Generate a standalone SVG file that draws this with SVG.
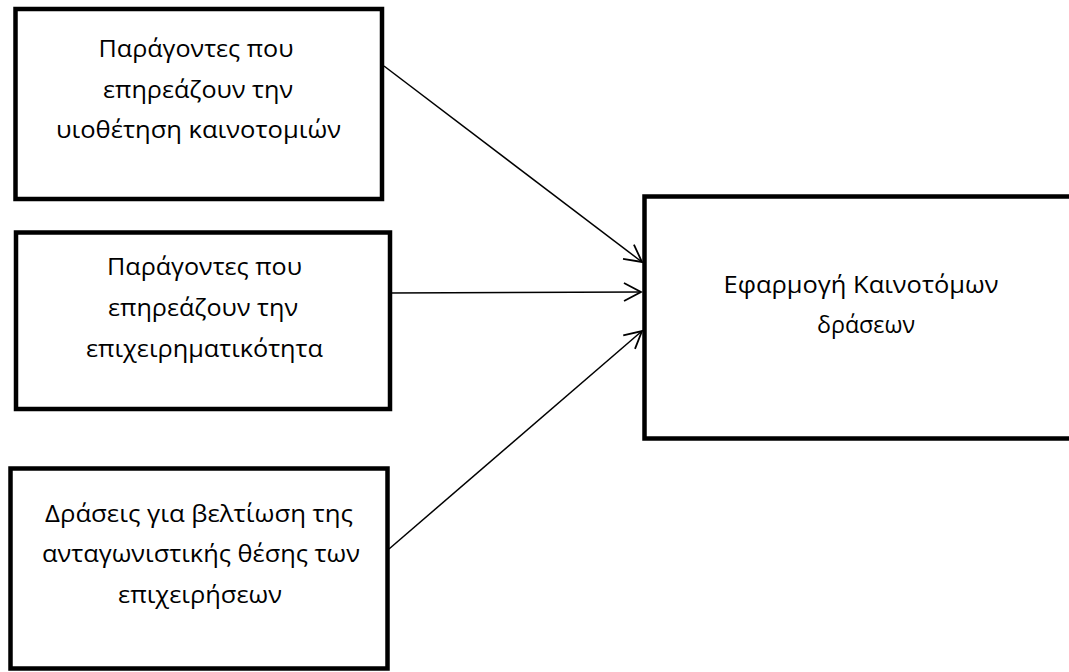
<svg xmlns="http://www.w3.org/2000/svg" width="1069" height="672" viewBox="0 0 1069 672">
<style>
.box{fill:#fff;stroke:#000;stroke-width:4.5}
.t{font-family:"Open Sans","Noto Sans","DejaVu Sans",sans-serif;font-size:24px;fill:#000;text-anchor:middle}
.c{stroke:#000;stroke-width:1.5;fill:none;marker-end:url(#arr)}
</style>
<defs>
<marker id="arr" viewBox="0 0 20 20" refX="18" refY="10" markerWidth="20" markerHeight="20" markerUnits="userSpaceOnUse" orient="auto">
<path d="M1,1 L18,10 L1,19" fill="none" stroke="#000" stroke-width="1.8"/>
</marker>
</defs>
<rect width="1069" height="672" fill="#fff"/>
<g id="n1">
<rect class="box" x="15.5" y="9" width="366.5" height="190"/>
<text class="t" x="196" y="57" textLength="195" lengthAdjust="spacingAndGlyphs">Παράγοντες που</text>
<text class="t" x="198" y="98" textLength="190" lengthAdjust="spacingAndGlyphs">επηρεάζουν την</text>
<text class="t" x="198.5" y="138" textLength="285" lengthAdjust="spacingAndGlyphs">υιοθέτηση καινοτομιών</text>
</g>
<g id="n2">
<rect class="box" x="16" y="232.5" width="374" height="176.5"/>
<text class="t" x="204.5" y="275" textLength="195" lengthAdjust="spacingAndGlyphs">Παράγοντες που</text>
<text class="t" x="203" y="316" textLength="190" lengthAdjust="spacingAndGlyphs">επηρεάζουν την</text>
<text class="t" x="204.5" y="357" textLength="237" lengthAdjust="spacingAndGlyphs">επιχειρηματικότητα</text>
</g>
<g id="n3">
<rect class="box" x="10.5" y="468.5" width="377" height="200"/>
<text class="t" x="199" y="522" textLength="308" lengthAdjust="spacingAndGlyphs">Δράσεις για βελτίωση της</text>
<text class="t" x="201" y="562" textLength="318" lengthAdjust="spacingAndGlyphs">ανταγωνιστικής θέσης των</text>
<text class="t" x="200" y="603" textLength="164" lengthAdjust="spacingAndGlyphs">επιχειρήσεων</text>
</g>
<g id="n4">
<rect class="box" x="644.5" y="196.5" width="440" height="242"/>
<text class="t" x="861" y="293" textLength="275" lengthAdjust="spacingAndGlyphs">Εφαρμογή Καινοτόμων</text>
<text class="t" x="866" y="333" textLength="98" lengthAdjust="spacingAndGlyphs">δράσεων</text>
</g>
<g id="connectors">
<line class="c" x1="384" y1="66" x2="642" y2="262"/>
<line class="c" x1="388" y1="293" x2="641" y2="292"/>
<line class="c" x1="389" y1="549" x2="642" y2="331"/>
</g>
</svg>
